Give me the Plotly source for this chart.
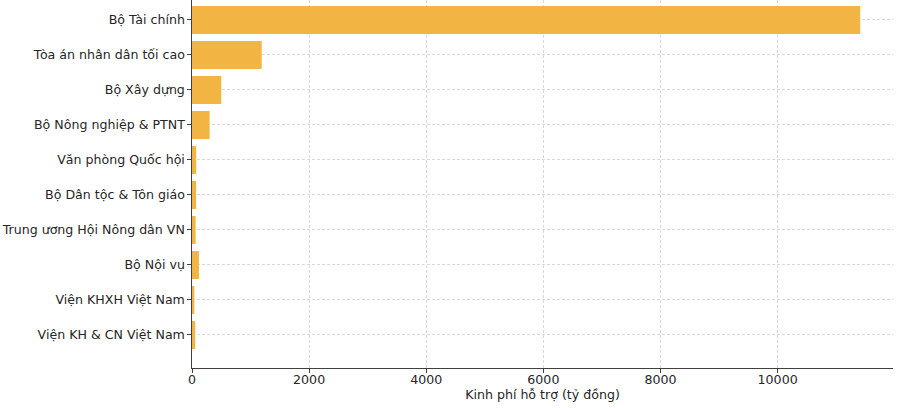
import plotly.graph_objects as go

# Agencies, listed top to bottom as in the chart
agencies = [
    "Bộ Tài chính",
    "Tòa án nhân dân tối cao",
    "Bộ Xây dựng",
    "Bộ Nông nghiệp & PTNT",
    "Văn phòng Quốc hội",
    "Bộ Dân tộc & Tôn giáo",
    "Trung ương Hội Nông dân VN",
    "Bộ Nội vụ",
    "Viện KHXH Việt Nam",
    "Viện KH & CN Việt Nam",
]
# Support budget (billion VND)
funding = [11410, 1190, 500, 300, 72, 70, 62, 118, 40, 55]

x_ticks = [0, 2000, 4000, 6000, 8000, 10000]
x_labels = ["0", "2000", "4000", "6000", "8000", "10000"]

BAR_COLOR = "#f2b443"
GRID_COLOR = "#d9d9d9"
FONT = "DejaVu Sans"

fig = go.Figure()
fig.add_trace(go.Bar(
    x=funding,
    y=agencies,
    orientation="h",
    marker=dict(color=BAR_COLOR, line=dict(width=0)),
    width=0.8,
))

fig.update_layout(
    width=900,
    height=408,
    margin=dict(l=191.5, r=7, t=0, b=40),
    plot_bgcolor="white",
    paper_bgcolor="white",
    font=dict(family=FONT, size=12.6, color="#262626"),
    showlegend=False,
    xaxis=dict(
        range=[0, 11970],
        tickmode="array",
        tickvals=x_ticks,
        ticktext=x_labels,
        automargin=False,
        showgrid=True,
        gridcolor=GRID_COLOR,
        griddash="3px,2px",
        gridwidth=0.8,
        showline=True,
        linecolor="#404040",
        linewidth=1.2,
        ticks="outside",
        ticklen=3.5,
        tickcolor="#404040",
        ticklabelstandoff=-4,
        zeroline=False,
        title=dict(text="Kinh phí hỗ trợ (tỷ đồng)", font=dict(size=12.6), standoff=0),
    ),
    yaxis=dict(
        categoryorder="array",
        categoryarray=agencies,
        range=[9.943, -0.571],
        automargin=False,
        showgrid=True,
        gridcolor=GRID_COLOR,
        griddash="3px,2px",
        gridwidth=0.8,
        showline=True,
        linecolor="#404040",
        linewidth=1.2,
        ticks="outside",
        ticklen=3.5,
        tickcolor="#404040",
        zeroline=False,
    ),
)

# drop the default page margin so the figure sits at the top-left corner
fig.write_html(
    "out.html",
    config={"displayModeBar": False},
    post_script="document.body.style.margin = '0';",
)
